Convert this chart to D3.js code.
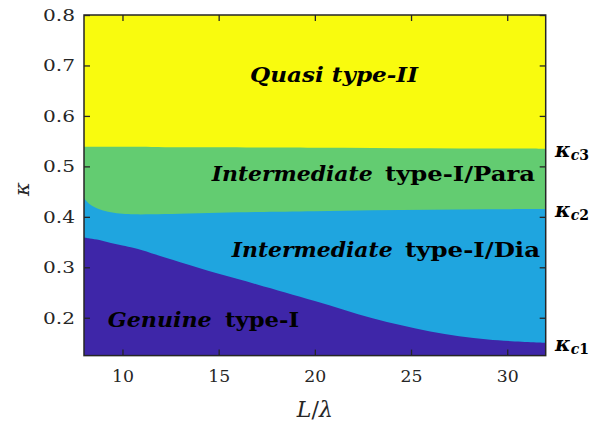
<!DOCTYPE html>
<html><head><meta charset="utf-8">
<script src="https://cdn.jsdelivr.net/npm/d3@7"></script>
<style>body{margin:0;background:#fff}svg{display:block}</style>
</head><body><svg id="c" width="606" height="428"></svg>
<script>
// Data
const Lx = [8, 8.3, 8.8, 9.4, 10, 10.6, 11.5, 13, 15, 17, 20, 23, 26, 29, 32];
const kappaC1 = [0.359,0.357,0.354,0.348,0.343,0.338,0.328,0.310,0.287,0.266,0.233,0.199,0.173,0.157,0.1505];
const kappaC2 = [0.437,0.425,0.415,0.409,0.406,0.405,0.405,0.406,0.408,0.4095,0.411,0.413,0.414,0.415,0.4155];
const kappaC3 = [0.539,0.539,0.539,0.539,0.5388,0.5387,0.5385,0.538,0.5377,0.5373,0.537,0.5365,0.536,0.5355,0.535];
const xTicks = [10, 15, 20, 25, 30];
const yTicks = [0.2, 0.3, 0.4, 0.5, 0.6, 0.7, 0.8];
const regionColors = ["#f9fb0e", "#63cc71", "#1fa5df", "#3e26a8"];
const regionLabels = [
  {it:"Quasi type-II", rm:""},
  {it:"Intermediate", rm:"type-I/Para"},
  {it:"Intermediate", rm:"type-I/Dia"},
  {it:"Genuine", rm:"type-I"}
];
const edgeLabels = [{sub:"c3", v:kappaC3[kappaC3.length-1]},{sub:"c2", v:kappaC2[kappaC2.length-1]},{sub:"c1", v:kappaC1[kappaC1.length-1]}];

const W=606,H=428, m={l:84,t:15,r:60.3,b:72.4};
const FF="DejaVu Serif";
const svg=d3.select("#c").attr("font-family",FF);
const x=d3.scaleLinear().domain([8,32]).range([m.l,W-m.r]);
const y=d3.scaleLinear().domain([0.125,0.8]).range([H-m.b,m.t]);
const g=svg.append("g");
g.append("rect").attr("x",x(8)).attr("y",y(0.8)).attr("width",x(32)-x(8)).attr("height",y(0.125)-y(0.8)).attr("fill",regionColors[0]);
const layers=[kappaC3,kappaC2,kappaC1];
layers.forEach((arr,i)=>{
  const area=d3.area().x((d,j)=>x(Lx[j])).y0(y(0.125)).y1(d=>y(d)).curve(d3.curveCatmullRom.alpha(0.5));
  g.append("path").datum(arr).attr("d",area).attr("fill",regionColors[i+1]);
});
// axes
const ax=svg.append("g").attr("class","axes");
const tl=6, ac="#262626";
function styleAxis(sel){sel.attr("font-family",FF);sel.select(".domain").remove();sel.selectAll("line").attr("stroke",ac).attr("stroke-width",1.3);}
ax.append("g").attr("transform",`translate(0,${y(0.125)})`).call(d3.axisBottom(x).tickValues(xTicks).tickSize(-tl).tickPadding(14).tickFormat(d3.format("d"))).call(styleAxis)
  .selectAll("text").attr("font-size",17).attr("fill","#262626").attr("textLength",22).attr("lengthAdjust","spacingAndGlyphs");
ax.append("g").attr("transform",`translate(0,${y(0.8)})`).call(d3.axisTop(x).tickValues(xTicks).tickSize(-tl).tickFormat("")).call(styleAxis);
ax.append("g").attr("transform",`translate(${x(8)},0)`).call(d3.axisLeft(y).tickValues(yTicks).tickSize(-tl).tickPadding(9).tickFormat(d3.format(".1f"))).call(styleAxis)
  .selectAll("text").attr("font-size",17).attr("fill","#262626").attr("textLength",32).attr("lengthAdjust","spacingAndGlyphs");
ax.append("g").attr("transform",`translate(${x(32)},0)`).call(d3.axisRight(y).tickValues(yTicks).tickSize(-tl).tickFormat("")).call(styleAxis);
ax.append("rect").attr("x",x(8)).attr("y",y(0.8)).attr("width",x(32)-x(8)).attr("height",y(0.125)-y(0.8)).attr("fill","none").attr("stroke",ac).attr("stroke-width",1.5);

// axis titles
const xl=svg.append("text").attr("x",x(20)).attr("y",417).attr("text-anchor","middle").attr("font-size",22).attr("fill","#262626");
xl.append("tspan").attr("font-style","italic").text("L");
xl.append("tspan").text("/");
xl.append("tspan").attr("font-style","italic").text("λ");
svg.append("text").attr("transform",`translate(29,${y(0.455)}) rotate(-90)`).attr("text-anchor","middle").attr("font-size",21).attr("font-style","italic").attr("fill","#262626").text("κ");

// region label pixel extents
const lab=[
 {it:[250,418,81.7], rm:null},
 {it:[211.7,372.7,181], rm:[385,535,181]},
 {it:[231.7,392.7,256.7], rm:[405,540,256.7]},
 {it:[107.7,211.7,326.7], rm:[225,299,326.7]}
];
regionLabels.forEach((L,i)=>{
  const p=lab[i];
  svg.append("text").attr("x",p.it[0]).attr("y",p.it[2]).attr("font-size",20).attr("font-weight","bold").attr("font-style","italic")
    .attr("textLength",p.it[1]-p.it[0]).attr("lengthAdjust","spacingAndGlyphs").text(L.it);
  if(p.rm) svg.append("text").attr("x",p.rm[0]).attr("y",p.rm[2]).attr("font-size",20).attr("font-weight","bold")
    .attr("textLength",p.rm[1]-p.rm[0]).attr("lengthAdjust","spacingAndGlyphs").text(L.rm);
});
// kappa_c labels
edgeLabels.forEach(e=>{
  const t=svg.append("text").attr("x",555).attr("y",y(e.v)+8).attr("font-size",21).attr("font-weight","bold");
  t.append("tspan").attr("font-style","italic").text("κ");
  t.append("tspan").attr("dy",3).attr("font-size",14).attr("font-style","italic").text(e.sub[0]);
  t.append("tspan").attr("font-size",14).text(e.sub[1]);
});
</script></body></html>
